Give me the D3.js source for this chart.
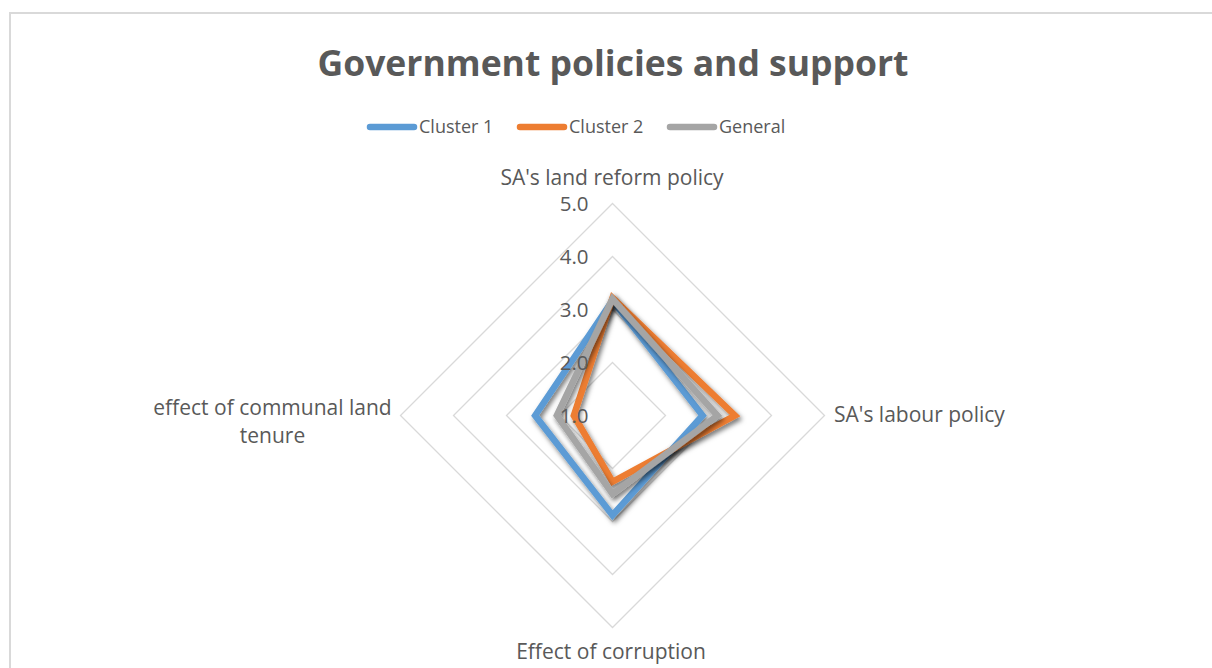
<!DOCTYPE html>
<html>
<head>
<meta charset="utf-8">
<script src="https://cdn.jsdelivr.net/npm/d3@7"></script>
<style>
  body { margin: 0; background: #fff; }
  text { font-family: "Open Sans", "Noto Sans", sans-serif; fill: #595959; }
</style>
</head>
<body>
<script>
const axes = ["SA's land reform policy", "SA's labour policy", "Effect of corruption", "effect of communal land tenure"];
const seriesNames = ["Cluster 1", "Cluster 2", "General"];
const cluster1 = [3.17, 2.70, 2.88, 2.46];
const cluster2 = [3.22, 3.31, 2.25, 1.73];
const general = [3.20, 2.98, 2.48, 2.05];
const ticks = [1, 2, 3, 4, 5];

const colors = ["#5B9BD5", "#ED7D31", "#A5A5A5"];
const allSeries = [cluster1, cluster2, general];

const svgWidth = 1212, svgHeight = 668;
const cx = 612.5, cy = 415.5, R = 212;

const svg = d3.select('body').append('svg')
  .attr('width', svgWidth)
  .attr('height', svgHeight);

// chart border
svg.append('rect')
  .attr('x', 10).attr('y', 13)
  .attr('width', 1220).attr('height', 700)
  .attr('fill', 'none')
  .attr('stroke', '#d9d9d9')
  .attr('stroke-width', 2);

const defs = svg.append('defs');
const f = defs.append('filter').attr('id', 'shadow')
  .attr('x', '-20%').attr('y', '-20%').attr('width', '140%').attr('height', '140%');
f.append('feDropShadow')
  .attr('dx', 2).attr('dy', 3)
  .attr('stdDeviation', 2.5)
  .attr('flood-color', '#000')
  .attr('flood-opacity', 0.55);

// title
svg.append('text')
  .attr('x', 613).attr('y', 76)
  .attr('text-anchor', 'middle')
  .style('font-size', '35.5px')
  .style('font-weight', 'bold')
  .text('Government policies and support');

const rScale = d3.scaleLinear().domain([1, 5]).range([0, R]);
const angle = i => i * 2 * Math.PI / axes.length;
const pt = (v, i) => [cx + rScale(v) * Math.sin(angle(i)), cy - rScale(v) * Math.cos(angle(i))];

// grid
const g = svg.append('g');
ticks.slice(1).forEach(t => {
  g.append('path')
    .attr('d', d3.line()(axes.map((a, i) => pt(t, i))) + 'Z')
    .attr('fill', 'none')
    .attr('stroke', '#d9d9d9')
    .attr('stroke-width', 1.3);
});

// series
const lineGen = d3.line();
allSeries.forEach((s, k) => {
  g.append('path')
    .attr('d', lineGen(s.map((v, i) => pt(v, i))) + 'Z')
    .attr('fill', 'none')
    .attr('stroke', colors[k])
    .attr('stroke-width', 6.5)
    .attr('stroke-linejoin', 'miter')
    .attr('filter', 'url(#shadow)');
});

// tick labels
ticks.forEach(t => {
  svg.append('text')
    .attr('x', cx - 24)
    .attr('y', cy - rScale(t))
    .attr('dy', '0.38em')
    .attr('text-anchor', 'end')
    .style('font-size', '20.5px')
    .text(t.toFixed(1));
});

// axis labels
const labelSize = '21px';
svg.append('text').attr('x', 612).attr('y', 185)
  .attr('text-anchor', 'middle').style('font-size', labelSize).text(axes[0]);
svg.append('text').attr('x', 834).attr('y', 422)
  .attr('text-anchor', 'start').style('font-size', labelSize).text(axes[1]);
svg.append('text').attr('x', 611).attr('y', 659)
  .attr('text-anchor', 'middle').style('font-size', labelSize).text(axes[2]);
const left = svg.append('text').attr('text-anchor', 'middle').style('font-size', labelSize);
left.append('tspan').attr('x', 272.5).attr('y', 415).text('effect of communal land');
left.append('tspan').attr('x', 272.5).attr('y', 443).text('tenure');

// legend
const legend = svg.append('g');
seriesNames.forEach((name, k) => {
  const x0 = 370 + k * 150;
  legend.append('line')
    .attr('x1', x0).attr('x2', x0 + 44)
    .attr('y1', 127).attr('y2', 127)
    .attr('stroke', colors[k])
    .attr('stroke-width', 6.5)
    .attr('stroke-linecap', 'round');
  legend.append('text')
    .attr('x', x0 + 49).attr('y', 127)
    .attr('dy', '0.35em')
    .style('font-size', '18px')
    .text(name);
});
</script>
</body>
</html>
